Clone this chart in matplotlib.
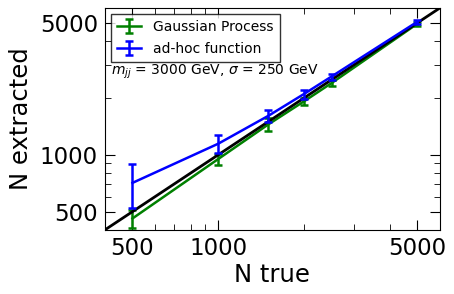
import matplotlib
matplotlib.use('Agg')
import matplotlib.pyplot as plt
from matplotlib.ticker import FixedLocator, FixedFormatter, NullFormatter

# values
n_true = [500, 1000, 1500, 2000, 2500, 5000]
gp_extracted = [460, 950, 1450, 1920, 2400, 4950]
gp_err = [50, 65, 110, 85, 80, 130]
adhoc_extracted = [710, 1145, 1610, 2100, 2600, 5070]
adhoc_err = [185, 125, 120, 115, 95, 110]
diag = [400, 6000]
tick_vals = [500, 1000, 5000]
tick_labels = ['500', '1000', '5000']
minor_vals = [400, 600, 700, 800, 900, 2000, 3000, 4000, 6000]

fig = plt.figure(figsize=(4.54, 2.94), dpi=100)
ax = fig.add_axes([0.231, 0.218, 0.738, 0.755])

ax.errorbar(n_true, gp_extracted, yerr=gp_err, color='g', lw=1.8, capsize=3,
            capthick=1.8, label='Gaussian Process', zorder=2)
ax.errorbar(n_true, adhoc_extracted, yerr=adhoc_err, color='b', lw=1.8, capsize=3,
            capthick=1.8, label='ad-hoc function', zorder=3)
ax.plot(diag, diag, color='k', lw=2, zorder=2.5)

ax.set_xscale('log')
ax.set_yscale('log')
ax.set_xlim(400, 6000)
ax.set_ylim(400, 6000)

for axis in (ax.xaxis, ax.yaxis):
    axis.set_major_locator(FixedLocator(tick_vals))
    axis.set_major_formatter(FixedFormatter(tick_labels))
    axis.set_minor_locator(FixedLocator(minor_vals))
    axis.set_minor_formatter(NullFormatter())
ax.tick_params(which='both', direction='in', top=True, right=True, labelsize=16.5)
ax.tick_params(which='major', length=7, pad=5)
ax.tick_params(which='minor', length=4)

ax.set_xlabel('N true', fontsize=17.5, labelpad=2)
ax.set_ylabel('N extracted', fontsize=17.5, labelpad=5)

leg = ax.legend(loc='upper left', fontsize=10, fancybox=False, edgecolor='k',
                borderaxespad=0.45, handlelength=1.75, handletextpad=0.9,
                labelspacing=0.6)
leg.get_frame().set_linewidth(1.0)

ax.text(0.018, 0.71, r'$m_{jj}$ = 3000 GeV, $\sigma$ = 250 GeV', transform=ax.transAxes,
        fontsize=10, va='center', ha='left')

fig.savefig('out.png', dpi=100)
